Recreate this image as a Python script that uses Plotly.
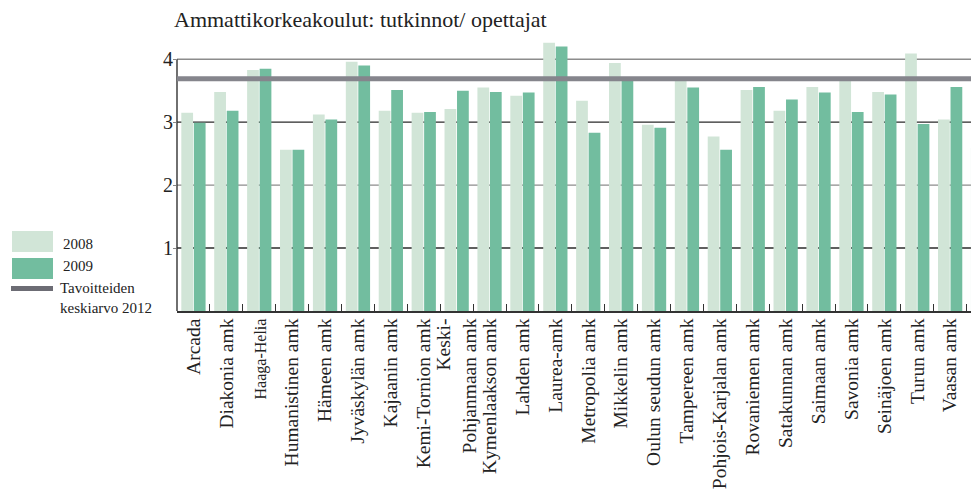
import plotly.graph_objects as go

categories = ["Arcada", "Diakonia amk", "Haaga-Helia", "Humanistinen amk", "Hämeen amk",
              "Jyväskylän amk", "Kajaanin amk", "Kemi-Tornion amk", "Keski-<br>Pohjanmaan amk",
              "Kymenlaakson amk", "Lahden amk", "Laurea-amk", "Metropolia amk", "Mikkelin amk",
              "Oulun seudun amk", "Tampereen amk", "Pohjois-Karjalan amk", "Rovaniemen amk",
              "Satakunnan amk", "Saimaan amk", "Savonia amk", "Seinäjoen amk", "Turun amk",
              "Vaasan amk", "Yh Novia"]
values_2008 = [3.15, 3.48, 3.83, 2.56, 3.12, 3.96, 3.18, 3.15, 3.21, 3.55, 3.42, 4.26,
               3.34, 3.94, 2.96, 3.69, 2.77, 3.51, 3.18, 3.56, 3.69, 3.48, 4.09, 3.04, 2.59]
values_2009 = [2.99, 3.18, 3.85, 2.56, 3.04, 3.90, 3.51, 3.16, 3.50, 3.48, 3.47, 4.20,
               2.83, 3.68, 2.91, 3.55, 2.56, 3.56, 3.36, 3.47, 3.16, 3.44, 2.97, 3.56, None]
target_2012 = 3.69
y_ticks = [1, 2, 3, 4]
y_tick_labels = ["1", "2", "3", "4"]
series_names = ["2008", "2009"]
target_name = "Tavoitteiden<br>keskiarvo 2012"
title_text = "Ammattikorkeakoulut: tutkinnot/ opettajat"

OFF = 8  # default page body margin
W, H = 979 - OFF, 493 - OFF
ML, MR, MT, MB = 177 - OFF, 0, 34 - OFF, 182
FONT = "Liberation Serif, Times New Roman, serif"
C08 = "#d1e5d7"
C09 = "#72bd9f"
CT = "#85858c"
TXT = "#222222"

fig = go.Figure()
fig.add_trace(go.Bar(x=categories, y=values_2008, name=series_names[0],
                     marker=dict(color=C08, line=dict(width=0)), showlegend=False))
fig.add_trace(go.Bar(x=categories, y=values_2009, name=series_names[1],
                     marker=dict(color=C09, line=dict(width=0)), showlegend=False))

plot_w = W - ML - MR
plot_h = H - MT - MB
cat_px = 32.9
x_max = -0.5 + plot_w / cat_px

def px_x(p):
    return (p - OFF - ML) / plot_w

def px_y(p):
    return 1 - (p - OFF - MT) / plot_h

def cat_to_paper(i):
    return (i + 0.5) / (x_max + 0.5)

shapes = []
grid_colors = {1: "#2a2a2a", 2: "#8c8c8c", 3: "#2a2a2a", 4: "#8c8c8c"}
for v in y_ticks:
    shapes.append(dict(type="line", xref="paper", yref="y", x0=0, x1=1, y0=v, y1=v,
                       line=dict(color=grid_colors[v], width=1.4), layer="below"))
shapes.append(dict(type="line", xref="paper", yref="y", x0=0, x1=0, y0=0, y1=max(y_ticks),
                   line=dict(color="#333333", width=1.4), layer="above"))
shapes.append(dict(type="line", xref="paper", yref="y", x0=0, x1=1, y0=target_2012, y1=target_2012,
                   line=dict(color=CT, width=5), layer="above"))

# custom legend
shapes.append(dict(type="rect", xref="paper", yref="paper", x0=px_x(12), x1=px_x(53),
                   y0=px_y(252), y1=px_y(231), fillcolor=C08, line=dict(width=0)))
shapes.append(dict(type="rect", xref="paper", yref="paper", x0=px_x(12), x1=px_x(53),
                   y0=px_y(279), y1=px_y(258), fillcolor=C09, line=dict(width=0)))
shapes.append(dict(type="line", xref="paper", yref="paper", x0=px_x(11), x1=px_x(53),
                   y0=px_y(288.5), y1=px_y(288.5), line=dict(color="#6c6c74", width=5)))

tick_text = [f'<span style="font-size:16px">{c}</span>' if c == "Haaga-Helia" else c
             for c in categories]

annotations = [
    dict(xref="paper", yref="paper", x=px_x(61), y=px_y(244), text=series_names[0],
         showarrow=False, xanchor="left", yanchor="middle", font=dict(size=15, color=TXT)),
    dict(xref="paper", yref="paper", x=px_x(61), y=px_y(266), text=series_names[1],
         showarrow=False, xanchor="left", yanchor="middle", font=dict(size=15, color=TXT)),
    dict(xref="paper", yref="paper", x=px_x(58), y=px_y(298), text=target_name,
         showarrow=False, xanchor="left", yanchor="middle", align="left",
         font=dict(size=15, color=TXT)),
    dict(xref="paper", yref="paper", x=cat_to_paper(len(categories) - 1), y=px_y(319),
         text=categories[-1], showarrow=False, xanchor="center", yanchor="top", textangle=-90,
         font=dict(size=19.5, color=TXT)),
]

fig.update_layout(
    width=W, height=H,
    margin=dict(l=ML, r=MR, t=MT, b=MB, pad=0),
    paper_bgcolor="white", plot_bgcolor="white",
    font=dict(family=FONT, color=TXT),
    barmode="group", bargap=0.24, bargroupgap=0.06,
    title=dict(text=title_text, xref="container", yref="container", x=(174 - OFF) / W,
               xanchor="left", y=1 - (19 - OFF) / H, yanchor="middle",
               font=dict(size=22, color=TXT)),
    xaxis=dict(type="category", range=[-0.5, x_max], showgrid=False, showline=True,
               linecolor="#333333", linewidth=1.6, ticks="inside", tickson="boundaries",
               ticklen=7, tickcolor="#333333", tickwidth=1.4, tickangle=-90,
               tickmode="array", tickvals=categories, ticktext=tick_text,
               tickfont=dict(size=19.5, color=TXT), ticklabelstandoff=-2,
               automargin=False, fixedrange=True, zeroline=False),
    yaxis=dict(range=[0, 4.4], tickvals=y_ticks, ticktext=y_tick_labels, showgrid=False,
               showline=False, zeroline=False, ticks="outside", ticklen=3, tickcolor="#888",
               tickfont=dict(size=20, color=TXT), ticklabelstandoff=-4, automargin=False),
    shapes=shapes, annotations=annotations, showlegend=False,
)

fig.write_html("out.html")
